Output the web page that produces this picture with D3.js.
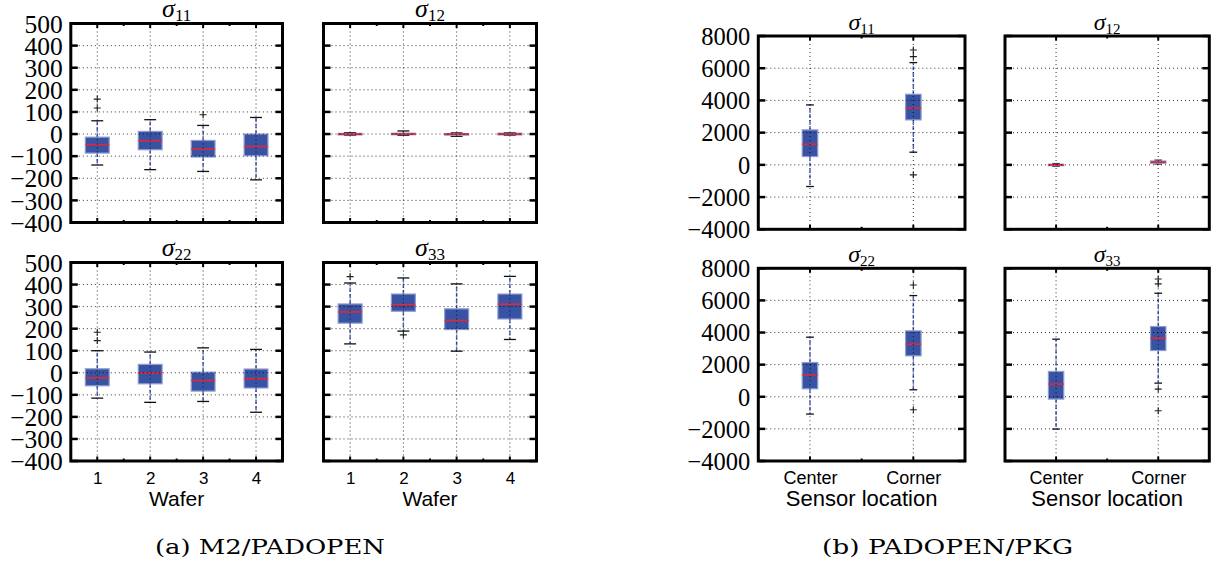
<!DOCTYPE html>
<html><head><meta charset="utf-8">
<script src="https://cdn.jsdelivr.net/npm/d3@7"></script>
<style>body{margin:0;background:#fff}</style>
</head><body><svg id="c" width="1218" height="567"></svg>
<script>
// ---------- DATA ----------
const wafers = ["1", "2", "3", "4"];
const locations = ["Center", "Corner"];
const waferTicks = [500, 400, 300, 200, 100, 0, -100, -200, -300, -400];
const locationTicks = [8000, 6000, 4000, 2000, 0, -2000, -4000];
const xLabelWafer = "Wafer";
const xLabelLocation = "Sensor location";
const captionA = "(a) M2/PADOPEN";
const captionB = "(b) PADOPEN/PKG";

// box statistics: lo whisker, q1, median, q3, hi whisker, outliers
const m2_s11 = [
  {lo: -140, q1: -86, med: -48, q3: -14, hi: 60, out: [118, 158]},
  {lo: -161, q1: -71, med: -30, q3: 12, hi: 65, out: []},
  {lo: -169, q1: -104, med: -68, q3: -29, hi: 39, out: [87]},
  {lo: -207, q1: -98, med: -56, q3: 0, hi: 75, out: []}
];
const m2_s12 = [
  {lo: -6, q1: -4, med: 0, q3: 3, hi: 6, out: []},
  {lo: -6, q1: -3, med: 0, q3: 4, hi: 14, out: []},
  {lo: -10, q1: -4, med: 0, q3: 2, hi: 5, out: []},
  {lo: -6, q1: -4, med: 0, q3: 4, hi: 6, out: []}
];
const m2_s22 = [
  {lo: -115, q1: -59, med: -23, q3: 18, hi: 100, out: [146, 184]},
  {lo: -134, q1: -50, med: -2, q3: 38, hi: 94, out: []},
  {lo: -130, q1: -83, med: -35, q3: 3, hi: 113, out: []},
  {lo: -179, q1: -69, med: -27, q3: 17, hi: 106, out: []}
];
const m2_s33 = [
  {lo: 131, q1: 225, med: 276, q3: 312, hi: 407, out: [436]},
  {lo: 189, q1: 279, med: 309, q3: 357, hi: 430, out: [172]},
  {lo: 98, q1: 196, med: 237, q3: 290, hi: 403, out: []},
  {lo: 151, q1: 244, med: 311, q3: 357, hi: 437, out: []}
];
const pkg_s11 = [
  {lo: -1344, q1: 517, med: 1282, q3: 2171, hi: 3722, out: []},
  {lo: 786, q1: 2792, med: 3516, q3: 4384, hi: 6349, out: [6721, 7135, -620]}
];
const pkg_s12 = [
  {lo: -80, q1: -40, med: 0, q3: 40, hi: 80, out: []},
  {lo: 60, q1: 100, med: 170, q3: 240, hi: 290, out: []}
];
const pkg_s22 = [
  {lo: -1078, q1: 497, med: 1368, q3: 2135, hi: 3710, out: []},
  {lo: 435, q1: 2549, med: 3275, q3: 4104, hi: 6301, out: [6964, -808]}
];
const pkg_s33 = [
  {lo: -2011, q1: -145, med: 788, q3: 1575, hi: 3586, out: []},
  {lo: 850, q1: 2881, med: 3648, q3: 4374, hi: 6447, out: [7030, 7330, 477, -871]}
];

// ---------- LAYOUT ----------
const L = {x0: 70.8, x1: 282.5}, R = {x0: 323.5, x1: 536.5};
const RL = {x0: 758.3, x1: 965}, RR = {x0: 1005, x1: 1209.3};
const panels = [
  {data: m2_s11, cats: wafers, ticks: waferTicks, sub: "11", ...L, y0: 23.5, y1: 222.5, yLab: true, xLab: false, grp: "a"},
  {data: m2_s12, cats: wafers, ticks: waferTicks, sub: "12", ...R, y0: 23.5, y1: 222.5, yLab: false, xLab: false, grp: "a"},
  {data: m2_s22, cats: wafers, ticks: waferTicks, sub: "22", ...L, y0: 262.5, y1: 461, yLab: true, xLab: true, xTitle: xLabelWafer, grp: "a"},
  {data: m2_s33, cats: wafers, ticks: waferTicks, sub: "33", ...R, y0: 262.5, y1: 461, yLab: false, xLab: true, xTitle: xLabelWafer, grp: "a"},
  {data: pkg_s11, cats: locations, ticks: locationTicks, sub: "11", ...RL, y0: 36, y1: 229.3, yLab: true, xLab: false, grp: "b"},
  {data: pkg_s12, cats: locations, ticks: locationTicks, sub: "12", ...RR, y0: 36, y1: 229.3, yLab: false, xLab: false, grp: "b"},
  {data: pkg_s22, cats: locations, ticks: locationTicks, sub: "22", ...RL, y0: 268.3, y1: 461, yLab: true, xLab: true, xTitle: xLabelLocation, grp: "b"},
  {data: pkg_s33, cats: locations, ticks: locationTicks, sub: "33", ...RR, y0: 268.3, y1: 461, yLab: false, xLab: true, xTitle: xLabelLocation, grp: "b"}
];
const style = {
  a: {yFont: 25.5, sig: 26, subF: 17, tickF: 17, xtF: 21},
  b: {yFont: 24.5, sig: 24, subF: 15, tickF: 18, xtF: 22}
};

const svg = d3.select("#c");
const BOX = "#3953a4", BOXEDGE = "#8e9ccf", MED = "#e8262f";
const fmt = d3.format("d");

function drawPanel(p) {
  const st = style[p.grp];
  const n = p.cats.length;
  const x = d3.scaleLinear().domain([0.5, n + 0.5]).range([p.x0, p.x1]);
  const y = d3.scaleLinear().domain([p.ticks[p.ticks.length - 1], p.ticks[0]]).range([p.y1, p.y0]);
  const idx = p.cats.map((c, i) => i + 1);
  const bwData = Math.min(0.15 * Math.max(n - 1, 1), 0.5);
  const bw = x(1 + bwData) - x(1);
  const cw = bw / 2;
  const g = svg.append("g");

  p.data.forEach((d, i) => {
    const cx = x(i + 1);
    [[d.q3, d.hi], [d.q1, d.lo]].forEach(([a, b]) =>
      g.append("line").attr("x1", cx).attr("x2", cx).attr("y1", y(a)).attr("y2", y(b))
        .attr("stroke", "#3a55b0").attr("stroke-opacity", 0.9).attr("stroke-width", 1.5).attr("stroke-dasharray", "4,2"));
    [d.lo, d.hi].forEach(v => g.append("line").attr("x1", cx - cw / 2).attr("x2", cx + cw / 2)
      .attr("y1", y(v)).attr("y2", y(v)).attr("stroke", "#111").attr("stroke-width", 1.3));
    g.append("rect").attr("x", cx - bw / 2).attr("width", bw)
      .attr("y", y(d.q3)).attr("height", Math.max(y(d.q1) - y(d.q3), 1.5))
      .attr("fill", BOX).attr("stroke", BOXEDGE).attr("stroke-width", 1.2);
    g.append("line").attr("x1", cx - bw / 2).attr("x2", cx + bw / 2)
      .attr("y1", y(d.med)).attr("y2", y(d.med)).attr("stroke", MED).attr("stroke-width", 1.6);
    d.out.forEach(v => {
      const yy = y(v), s = 3.5;
      g.append("path").attr("d", `M${cx - s},${yy}H${cx + s}M${cx},${yy - s}V${yy + s}`)
        .attr("stroke", "#222").attr("stroke-width", 1.1).attr("fill", "none");
    });
  });

  // grid (drawn on top, as in the original)
  p.ticks.forEach(t => {
    if (t === p.ticks[0] || t === p.ticks[p.ticks.length - 1]) return;
    g.append("line").attr("x1", p.x0).attr("x2", p.x1).attr("y1", y(t)).attr("y2", y(t))
      .attr("stroke", "#000").attr("stroke-width", 1).attr("stroke-dasharray", "1,3").attr("stroke-opacity", 0.8);
  });
  idx.forEach(i => {
    g.append("line").attr("x1", x(i)).attr("x2", x(i)).attr("y1", p.y0).attr("y2", p.y1)
      .attr("stroke", "#000").attr("stroke-width", 1).attr("stroke-dasharray", "1,3").attr("stroke-opacity", 0.8);
  });

  // frame ticks
  p.ticks.forEach(t => {
    g.append("line").attr("x1", p.x0).attr("x2", p.x0 + 7).attr("y1", y(t)).attr("y2", y(t)).attr("stroke", "#000").attr("stroke-width", 2.5);
    g.append("line").attr("x1", p.x1 - 7).attr("x2", p.x1).attr("y1", y(t)).attr("y2", y(t)).attr("stroke", "#000").attr("stroke-width", 2.5);
  });
  idx.forEach(i => {
    [[i, 4.5], [i + 0.5, 2.5]].forEach(([v, len]) => {
      if (v >= n + 0.5) return;
      g.append("line").attr("x1", x(v)).attr("x2", x(v)).attr("y1", p.y1).attr("y2", p.y1 - len).attr("stroke", "#000").attr("stroke-width", 2);
      g.append("line").attr("x1", x(v)).attr("x2", x(v)).attr("y1", p.y0).attr("y2", p.y0 + len).attr("stroke", "#000").attr("stroke-width", 2);
    });
  });

  g.append("rect").attr("x", p.x0).attr("y", p.y0).attr("width", p.x1 - p.x0).attr("height", p.y1 - p.y0)
    .attr("fill", "none").attr("stroke", "#000").attr("stroke-width", 3);

  if (p.yLab) {
    const ay = g.append("g").attr("transform", `translate(${p.x0},0)`)
      .call(d3.axisLeft(y).tickValues(p.ticks).tickFormat(fmt).tickSize(0).tickPadding(8));
    ay.select(".domain").remove();
    ay.attr("font-family", "'Liberation Serif', serif").attr("font-size", st.yFont);
    ay.selectAll("text").attr("fill", "#000").attr("dy", "0.34em");
  }
  if (p.xLab) {
    const ax = g.append("g").attr("transform", `translate(0,${p.y1})`)
      .call(d3.axisBottom(x).tickValues(idx).tickFormat(i => p.cats[i - 1]).tickSize(0));
    ax.select(".domain").remove();
    ax.attr("font-family", "'Liberation Sans', Arial, sans-serif").attr("font-size", st.tickF);
    ax.selectAll("text").attr("fill", "#000").attr("y", 16.5).attr("dy", "0.36em");
    g.append("text").attr("x", (p.x0 + p.x1) / 2).attr("y", p.y1 + 37).attr("dy", "0.36em")
      .attr("text-anchor", "middle").attr("font-family", "'Liberation Sans', Arial, sans-serif")
      .attr("font-size", st.xtF).text(p.xTitle);
  }
  const t = g.append("text").attr("x", (p.x0 + p.x1) / 2).attr("y", p.y0 - 6.5)
    .attr("text-anchor", "middle").attr("font-family", "'Liberation Serif', serif");
  t.append("tspan").attr("font-style", "italic").attr("font-size", st.sig).text("σ");
  t.append("tspan").attr("font-size", st.subF).attr("dy", 4).text(p.sub);
}

panels.forEach(drawPanel);

[[captionA, 270, 230], [captionB, 947.5, 251]].forEach(([txt, cx, w]) => {
  svg.append("text").attr("x", cx - w / 2).attr("y", 547).attr("dy", "0.35em")
    .attr("font-family", "'DejaVu Serif', serif").attr("font-size", 21)
    .attr("textLength", w).attr("lengthAdjust", "spacingAndGlyphs").text(txt);
});
</script>
</body></html>
